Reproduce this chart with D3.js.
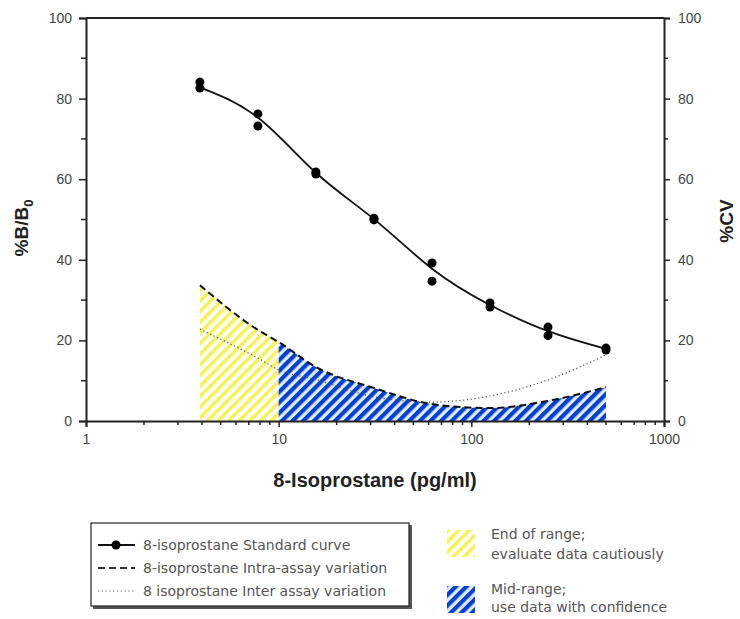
<!DOCTYPE html>
<html>
<head>
<meta charset="utf-8">
<script src="https://cdn.jsdelivr.net/npm/d3@7"></script>
<style>
  body { margin: 0; background: #fff; }
  svg { font-family: "Liberation Sans", Arial, sans-serif; }
  .tick text { fill: #444; font-size: 14px; }
  .axis path, .axis line { stroke: #222; }
  .ttl { font-weight: bold; fill: #222; }
  .leg { fill: #555; font-size: 14px; font-family: "DejaVu Sans", sans-serif; }
</style>
</head>
<body>
<script>
//standard curve points (two replicates per concentration)
var stdX = [3.9, 3.9, 7.8, 7.8, 15.6, 15.6, 31.25, 31.25, 62.5, 62.5, 125, 125, 250, 250, 500, 500];
var stdY = [84.1, 82.6, 76.2, 73.2, 61.8, 61.3, 50.3, 49.9, 39.2, 34.7, 29.3, 28.3, 23.3, 21.2, 18.1, 17.6];

//fitted curve read at each concentration
var fitX = [3.9, 7.8, 15.6, 31.25, 62.5, 125, 250, 500];
var fitY = [82.8, 75.3, 61.6, 50.1, 37.8, 28.8, 22.3, 17.9];

//%CV curves
var cvX = [3.9, 7.8, 10, 15.6, 31.25, 62.5, 125, 250, 500];
var intraCv = [33.7, 22.6, 19.6, 13.4, 8.2, 4.2, 3.2, 5.0, 8.4];
var interCv = [22.8, 15.6, 12.7, 10.3, 6.0, 4.7, 6.2, 10.2, 16.4];

var xTicks = [1, 10, 100, 1000];
var yTicks = [0, 20, 40, 60, 80, 100];
var legendItems = ["8-isoprostane Standard curve", "8-isoprostane Intra-assay variation", "8 isoprostane Inter assay variation"];

var width = 740, height = 619;
var plotL = 86, plotR = 664, plotT = 18, plotB = 421;

var svg = d3.select("body").append("svg")
    .attr("width", width)
    .attr("height", height);

var x = d3.scaleLog().domain([1, 1000]).range([plotL, plotR]);
var y = d3.scaleLinear().domain([0, 100]).range([plotB, plotT]);

//hatch patterns
var defs = svg.append("defs");
var yellowPat = defs.append("pattern")
    .attr("id", "hatchYellow")
    .attr("patternUnits", "userSpaceOnUse")
    .attr("width", 7.5).attr("height", 7.5)
    .attr("patternTransform", "rotate(45)");
yellowPat.append("rect").attr("width", 7.5).attr("height", 7.5).attr("fill", "#fffff2");
yellowPat.append("rect").attr("width", 3.6).attr("height", 7.5).attr("fill", "#f8f064");

var bluePat = defs.append("pattern")
    .attr("id", "hatchBlue")
    .attr("patternUnits", "userSpaceOnUse")
    .attr("width", 7.5).attr("height", 7.5)
    .attr("patternTransform", "rotate(45)");
bluePat.append("rect").attr("width", 7.5).attr("height", 7.5).attr("fill", "#dceeff");
bluePat.append("rect").attr("width", 4.2).attr("height", 7.5).attr("fill", "#0a3fc8");

defs.append("clipPath").attr("id", "clipYellow")
    .append("rect")
    .attr("x", x(3.9)).attr("y", plotT)
    .attr("width", x(10) - x(3.9)).attr("height", plotB - plotT);
defs.append("clipPath").attr("id", "clipBlue")
    .append("rect")
    .attr("x", x(10)).attr("y", plotT)
    .attr("width", x(500) - x(10)).attr("height", plotB - plotT);

var cvData = cvX.map(function(d, i){ return {x: d, intra: intraCv[i], inter: interCv[i]}; });

var area = d3.area()
    .x(function(d){ return x(d.x); })
    .y0(y(0))
    .y1(function(d){ return y(d.intra); })
    .curve(d3.curveMonotoneX);

svg.append("path").datum(cvData)
    .attr("d", area)
    .attr("fill", "url(#hatchYellow)")
    .attr("clip-path", "url(#clipYellow)");
svg.append("path").datum(cvData)
    .attr("d", area)
    .attr("fill", "url(#hatchBlue)")
    .attr("clip-path", "url(#clipBlue)");

//intra-assay dashed line
svg.append("path").datum(cvData)
    .attr("d", d3.line()
        .x(function(d){ return x(d.x); })
        .y(function(d){ return y(d.intra); })
        .curve(d3.curveMonotoneX))
    .attr("fill", "none")
    .attr("stroke", "#111")
    .attr("stroke-width", 2)
    .attr("stroke-dasharray", "7,4");

//inter-assay dotted line
svg.append("path").datum(cvData)
    .attr("d", d3.line()
        .x(function(d){ return x(d.x); })
        .y(function(d){ return y(d.inter); })
        .curve(d3.curveMonotoneX))
    .attr("fill", "none")
    .attr("stroke", "#555")
    .attr("stroke-width", 1.2)
    .attr("stroke-dasharray", "1.2,2.6");

//standard curve
var fitData = fitX.map(function(d, i){ return [d, fitY[i]]; });
svg.append("path").datum(fitData)
    .attr("d", d3.line()
        .x(function(d){ return x(d[0]); })
        .y(function(d){ return y(d[1]); })
        .curve(d3.curveNatural))
    .attr("fill", "none")
    .attr("stroke", "#111")
    .attr("stroke-width", 1.8);

svg.selectAll(".pt")
    .data(stdX)
    .enter()
    .append("circle")
    .attr("class", "pt")
    .attr("cx", function(d){ return x(d); })
    .attr("cy", function(d, i){ return y(stdY[i]); })
    .attr("r", 4.5)
    .attr("fill", "#000");

//top frame line
svg.append("line")
    .attr("x1", plotL).attr("x2", plotR)
    .attr("y1", plotT).attr("y2", plotT)
    .attr("stroke", "#222").attr("stroke-width", 2);

//axes
var xAxis = svg.append("g").attr("class", "axis")
    .attr("transform", "translate(0," + plotB + ")")
    .call(d3.axisBottom(x).tickValues(xTicks).tickFormat(d3.format("d")).tickSize(6).tickPadding(7));
var minorX = [];
[1, 10, 100].forEach(function(dec){
    for (var k = 2; k <= 9; k++) minorX.push(dec * k);
});
xAxis.selectAll(".minor").data(minorX).enter()
    .append("line").attr("class", "minor")
    .attr("x1", function(d){ return x(d); }).attr("x2", function(d){ return x(d); })
    .attr("y1", 0).attr("y2", 4)
    .attr("stroke", "#222").attr("stroke-width", 1.5);

var minorY = [10, 30, 50, 70, 90];
var yLeft = svg.append("g").attr("class", "axis")
    .attr("transform", "translate(" + plotL + ",0)")
    .call(d3.axisLeft(y).tickValues(yTicks).tickSize(7).tickPadding(7));
yLeft.selectAll(".minor").data(minorY).enter()
    .append("line").attr("class", "minor")
    .attr("x1", 0).attr("x2", -5)
    .attr("y1", function(d){ return y(d); }).attr("y2", function(d){ return y(d); })
    .attr("stroke", "#222").attr("stroke-width", 1.5);

var yRight = svg.append("g").attr("class", "axis")
    .attr("transform", "translate(" + plotR + ",0)")
    .call(d3.axisRight(y).tickValues(yTicks).tickSize(6).tickPadding(8));
yRight.selectAll(".minor").data(minorY).enter()
    .append("line").attr("class", "minor")
    .attr("x1", 0).attr("x2", 4)
    .attr("y1", function(d){ return y(d); }).attr("y2", function(d){ return y(d); })
    .attr("stroke", "#222").attr("stroke-width", 1.5);

svg.selectAll(".axis path.domain").attr("stroke-width", 2);
svg.selectAll(".axis .tick line").attr("stroke-width", 1.5);

//axis titles
svg.append("text").attr("class", "ttl")
    .attr("x", 375).attr("y", 487)
    .attr("text-anchor", "middle")
    .style("font-size", "20px")
    .text("8-Isoprostane (pg/ml)");

var yl = svg.append("text").attr("class", "ttl")
    .attr("transform", "translate(28,228) rotate(-90)")
    .attr("text-anchor", "middle")
    .style("font-size", "19px");
yl.append("tspan").text("%B/B");
yl.append("tspan").attr("dy", 5).style("font-size", "13px").text("0");

svg.append("text").attr("class", "ttl")
    .attr("transform", "translate(733,221) rotate(-90)")
    .attr("text-anchor", "middle")
    .style("font-size", "19px")
    .text("%CV");

//legend box
svg.append("rect")
    .attr("x", 93).attr("y", 525)
    .attr("width", 319).attr("height", 84)
    .attr("fill", "#555");
svg.append("rect")
    .attr("x", 91).attr("y", 523)
    .attr("width", 318).attr("height", 83)
    .attr("fill", "#fff")
    .attr("stroke", "#222").attr("stroke-width", 1.2);

var legY = [545, 568, 591];
var lg = svg.append("g");
lg.append("line").attr("x1", 98).attr("x2", 135).attr("y1", legY[0]).attr("y2", legY[0])
    .attr("stroke", "#111").attr("stroke-width", 2);
lg.append("circle").attr("cx", 116).attr("cy", legY[0]).attr("r", 4.5).attr("fill", "#000");
lg.append("line").attr("x1", 98).attr("x2", 135).attr("y1", legY[1]).attr("y2", legY[1])
    .attr("stroke", "#333").attr("stroke-width", 2).attr("stroke-dasharray", "7,4");
lg.append("line").attr("x1", 98).attr("x2", 135).attr("y1", legY[2]).attr("y2", legY[2])
    .attr("stroke", "#555").attr("stroke-width", 1.2).attr("stroke-dasharray", "1.2,2.6");
lg.selectAll(".leg").data(legendItems).enter()
    .append("text").attr("class", "leg")
    .attr("x", 143)
    .attr("y", function(d, i){ return legY[i] + 5; })
    .text(function(d){ return d; });

//range legend
svg.append("rect").attr("x", 447).attr("y", 530).attr("width", 28).attr("height", 27)
    .attr("fill", "url(#hatchYellow)");
svg.append("rect").attr("x", 447).attr("y", 586).attr("width", 28).attr("height", 27)
    .attr("fill", "url(#hatchBlue)");
var rangeText = [["End of range;", 539], ["evaluate data cautiously", 559], ["Mid-range;", 594], ["use data with confidence", 612]];
svg.selectAll(".rt").data(rangeText).enter()
    .append("text").attr("class", "leg rt")
    .attr("x", 491)
    .attr("y", function(d){ return d[1]; })
    .text(function(d){ return d[0]; });
</script>
</body>
</html>
